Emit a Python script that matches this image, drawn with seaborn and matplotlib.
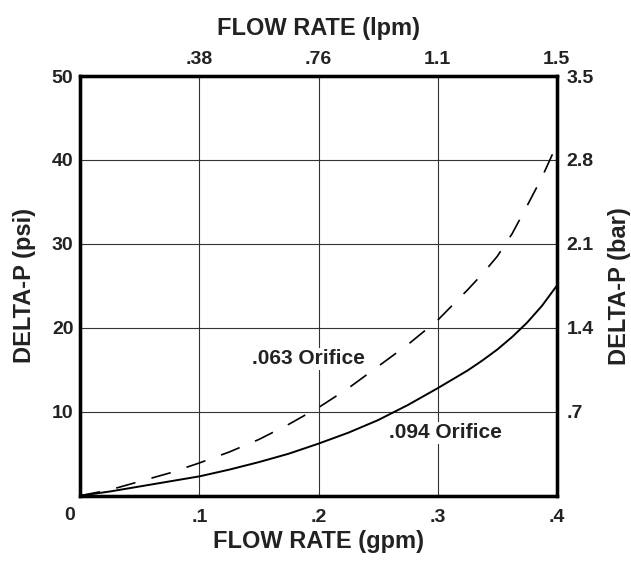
import numpy as np
import pandas as pd
import seaborn as sns
import matplotlib.pyplot as plt

# flow rate (gpm) and pressure drop (psi)
gpm = [0, 0.025, 0.05, 0.075, 0.1, 0.125, 0.15, 0.175, 0.2,
       0.225, 0.25, 0.275, 0.3, 0.325, 0.3375, 0.35, 0.3625, 0.375, 0.3875, 0.4]
psi_063 = [0, 0.7, 1.7, 2.7, 3.9, 5.2, 6.7, 8.5, 10.5,
           12.8, 15.4, 18.0, 20.9, 24.5, 26.4, 28.5, 31.2, 34.5, 37.9, 41.8]
psi_094 = [0, 0.5, 1.1, 1.7, 2.3, 3.1, 4.0, 5.0, 6.2,
           7.5, 9.0, 10.8, 12.8, 14.9, 16.1, 17.4, 18.9, 20.6, 22.6, 25.0]

x_ticks = [0.1, 0.2, 0.3, 0.4]
x_labels = [".1", ".2", ".3", ".4"]
lpm_labels = [".38", ".76", "1.1", "1.5"]
psi_ticks = [10, 20, 30, 40, 50]
bar_ticks = [0.7, 1.4, 2.1, 2.8, 3.5]
bar_labels = [".7", "1.4", "2.1", "2.8", "3.5"]

df = pd.DataFrame({"gpm": gpm, "psi_063": psi_063, "psi_094": psi_094})

sns.set_style("white")
plt.rcParams['font.family'] = ['Liberation Sans', 'DejaVu Sans']
plt.rcParams['font.weight'] = 'bold'
txt = "#222222"
tick_fs = 14
title_fs = 17

fig = plt.figure(figsize=(6.31, 5.63), dpi=100)
ax = fig.add_axes([0.1273, 0.1196, 0.755, 0.7454])

sns.lineplot(data=df, x="gpm", y="psi_094", ax=ax, color="black", lw=1.4)
sns.lineplot(data=df, x="gpm", y="psi_063", ax=ax, color="black", lw=1.2,
             linestyle=(0, (12, 10)))

ax.set_xlim(0, 0.4)
ax.set_ylim(0, 50)
ax.set_xticks(x_ticks)
ax.set_xticklabels(x_labels)
ax.set_yticks(psi_ticks)
ax.grid(True, color="#333333", lw=0.8)
ax.tick_params(axis="y", length=0, labelsize=tick_fs, labelcolor=txt, pad=5)
ax.tick_params(axis="x", length=0, labelsize=tick_fs, labelcolor=txt, pad=9.5)
ax.set_xlabel("FLOW RATE (gpm)", fontsize=title_fs, fontweight="bold", color=txt, labelpad=3)
ax.set_ylabel("DELTA-P (psi)", fontsize=title_fs, fontweight="bold", color=txt, labelpad=11)
for s in ax.spines.values():
    s.set_linewidth(2.3)
    s.set_color("black")

ax.annotate("0", xy=(0, 0), xytext=(-11, -20), textcoords="offset pixels",
            ha="center", va="center", fontsize=tick_fs, fontweight="bold", color=txt)

# right axis in bar
axr = ax.twinx()
axr.set_ylim(0, 3.5)
axr.set_yticks(bar_ticks)
axr.set_yticklabels(bar_labels)
axr.tick_params(length=0, labelsize=tick_fs, labelcolor=txt, pad=7)
axr.set_ylabel("DELTA-P (bar)", fontsize=title_fs, fontweight="bold", color=txt, labelpad=10)

# top axis in lpm
axt = ax.twiny()
axt.set_xlim(0, 0.4)
axt.set_xticks(x_ticks)
axt.set_xticklabels(lpm_labels)
axt.tick_params(length=0, labelsize=tick_fs, labelcolor=txt, pad=6)
axt.set_xlabel("FLOW RATE (lpm)", fontsize=title_fs, fontweight="bold", color=txt, labelpad=11)
for a in (axr, axt):
    for s in a.spines.values():
        s.set_linewidth(2.3)
        s.set_color("black")

ax.text(0.144, 16.3, ".063 Orifice", fontsize=15, fontweight="bold", color=txt,
        ha="left", va="center", bbox=dict(facecolor="white", edgecolor="none", pad=1))
ax.text(0.259, 7.5, ".094 Orifice", fontsize=15, fontweight="bold", color=txt,
        ha="left", va="center", bbox=dict(facecolor="white", edgecolor="none", pad=1))

fig.savefig("out.png", dpi=100)
